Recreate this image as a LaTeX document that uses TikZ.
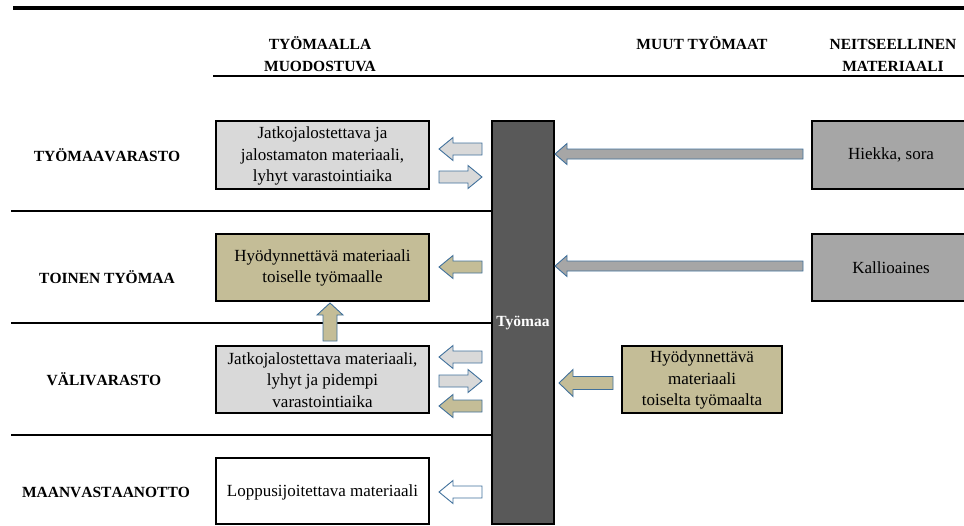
\documentclass[tikz,border=0pt]{standalone}
\usepackage{fontspec}
\setmainfont{Liberation Serif}
\definecolor{boxgray}{HTML}{D9D9D9}
\definecolor{tan}{HTML}{C4BD97}
\definecolor{colgray}{HTML}{595959}
\definecolor{midgray}{HTML}{A6A6A6}
\definecolor{arrblue}{RGB}{65,113,156}
\tikzset{
  hdr/.style={font=\fontsize{15.5}{22}\selectfont\bfseries, align=center, inner sep=0, anchor=base},
  rowlbl/.style={font=\fontsize{15.5}{20}\selectfont\bfseries\addfontfeature{Kerning=Off}, inner sep=0, anchor=base},
  boxtxt/.style={font=\fontsize{17}{21.7}\selectfont, align=center, inner sep=0},
  sepline/.style={line width=1.8pt},
  boxline/.style={draw=black, line width=1.6pt},
  blk/.style={draw=arrblue, line width=0.9pt, line join=miter},
}
% left-pointing block arrow: style, tip x, y, tail x, shaft half, head half, head length
\newcommand\blkL[7]{\filldraw[blk,#1] (#2,#3) -- ++(#7,-#6) -- ++(0,{#6-#5}) -- ({#4},{#3-#5}) -- ({#4},{#3+#5}) -- ({#2+#7},{#3+#5}) -- ++(0,{#6-#5}) -- cycle;}
% right-pointing block arrow: style, tip x, y, tail x, shaft half, head half, head length
\newcommand\blkR[7]{\filldraw[blk,#1] (#2,#3) -- ++(-#7,-#6) -- ++(0,{#6-#5}) -- ({#4},{#3-#5}) -- ({#4},{#3+#5}) -- ({#2-#7},{#3+#5}) -- ++(0,{#6-#5}) -- cycle;}
% up-pointing block arrow: style, x, tip y, tail y, shaft half, head half, head length
\newcommand\blkU[7]{\filldraw[blk,#1] (#2,#3) -- ++(-#6,#7) -- ++({#6-#5},0) -- ({#2-#5},{#4}) -- ({#2+#5},{#4}) -- ({#2+#5},{#3+#7}) -- ++({#6-#5},0) -- cycle;}
\begin{document}
\begin{tikzpicture}[x=1pt,y=-1pt]
\useasboundingbox (0,0) rectangle (964,525);
% top lines
\draw[line width=4pt] (13,8) -- (966,8);
\draw[line width=2.5pt] (213,76) -- (966,76);
% headers
\node[hdr] (h1a) at (320,49) {TYÖMAALLA};
\node[hdr] (h1b) at (320,71) {MUODOSTUVA};
\node[hdr] (h2) at (702,49) {MUUT TYÖMAAT};
\node[hdr] (h3a) at (893,49) {NEITSEELLINEN};
\node[hdr] (h3b) at (893,71) {MATERIAALI};
% row separators
\draw[sepline] (11,211) -- (492,211);
\draw[sepline] (11,323) -- (492,323);
\draw[sepline] (11,435) -- (492,435);
% row labels
\node[rowlbl] (r1) at (107,161) {TYÖMAAVARASTO};
\node[rowlbl] (r2) at (107,283) {TOINEN TYÖMAA};
\node[rowlbl] (r3) at (104,385) {VÄLIVARASTO};
\node[rowlbl] (r4) at (106,497) {MAANVASTAANOTTO};
% left boxes
\filldraw[boxline, fill=boxgray] (216,121) rectangle (429,189);
\node[boxtxt] (b1) at (322.5,156) {Jatkojalostettava ja\\jalostamaton materiaali,\\lyhyt varastointiaika};
\filldraw[boxline, fill=tan] (216,234) rectangle (429,301);
\node[boxtxt] (b2) at (322.5,268) {Hyödynnettävä materiaali\\toiselle työmaalle};
\filldraw[boxline, fill=boxgray] (216,346) rectangle (429,413);
\node[boxtxt] (b3) at (322.5,380) {Jatkojalostettava materiaali,\\lyhyt ja pidempi\\varastointiaika};
\filldraw[boxline, fill=white] (216,458) rectangle (429,524);
\node[boxtxt] (b4) at (322.5,492) {Loppusijoitettava materiaali};
% column
\filldraw[boxline, fill=colgray] (492,121) rectangle (554,524);
\node[font=\fontsize{15.5}{18}\selectfont\bfseries, text=white, inner sep=0] (col) at (523,323) {Työmaa};
% right boxes
\filldraw[boxline, fill=midgray] (812,121) rectangle (972,189);
\node[boxtxt] (rb1) at (891,155) {Hiekka, sora};
\filldraw[boxline, fill=midgray] (812,234) rectangle (972,301);
\node[boxtxt] (rb2) at (891,268) {Kallioaines};
\filldraw[boxline, fill=tan] (622,346) rectangle (782,413);
\node[boxtxt] (rb3) at (702,380) {Hyödynnettävä\\materiaali\\toiselta työmaalta};
% row arrows
\blkL{fill=boxgray}{439}{149}{482}{6}{11.5}{14}
\blkR{fill=boxgray}{482}{177}{439}{6}{11.5}{14}
\blkL{fill=tan}{439}{267}{482}{6}{11.5}{14}
\blkL{fill=boxgray}{439}{357}{482}{6}{11.5}{14}
\blkR{fill=boxgray}{482}{381}{439}{6}{11.5}{14}
\blkL{fill=tan}{439}{406}{482}{6}{11.5}{14}
\blkL{fill=white}{439}{492}{482}{6}{11.5}{14}
% big arrows
\blkL{fill=midgray}{555}{154}{803}{5}{10.5}{12}
\blkL{fill=midgray}{555}{266}{803}{5}{10.5}{12}
\blkL{fill=tan}{559}{383}{613}{6.5}{13.5}{14}
\blkU{fill=tan}{330}{303}{341}{7}{13}{12}
\end{tikzpicture}
\end{document}
